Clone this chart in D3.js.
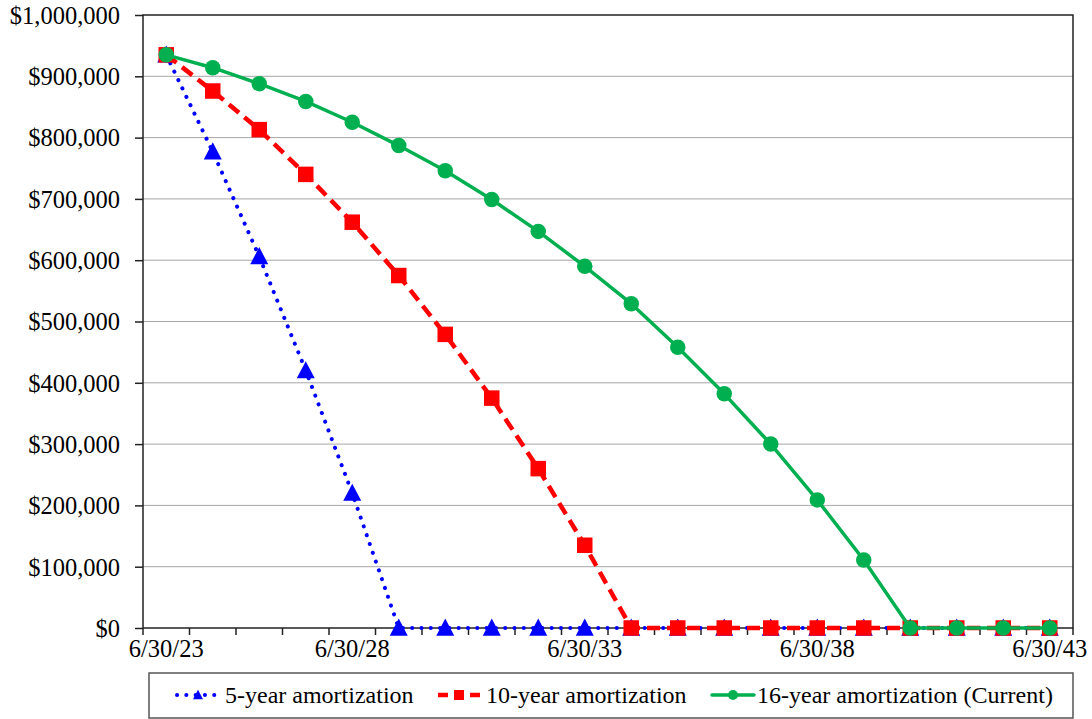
<!DOCTYPE html>
<html>
<head>
<meta charset="utf-8">
<script src="https://cdn.jsdelivr.net/npm/d3@7"></script>
<style>
  body { margin: 0; background: #fff; }
  svg text { fill: #000; }
</style>
</head>
<body>
<svg id="chart" width="1092" height="719"></svg>
<script>
// Valuation dates (category axis)
const dates = ['6/30/23', '6/30/25', '6/30/26', '6/30/27', '6/30/28', '6/30/29', '6/30/30',
    '6/30/31', '6/30/32', '6/30/33', '6/30/34', '6/30/35', '6/30/36', '6/30/37', '6/30/38',
    '6/30/39', '6/30/40', '6/30/41', '6/30/42', '6/30/43'];
const labelDates = ['6/30/23', '6/30/28', '6/30/33', '6/30/38', '6/30/43'];

// Unfunded balance, in dollars
const fiveYear = [935000, 777000, 606000, 420000, 220000, 0, 0, 0, 0, 0,
    0, 0, 0, 0, 0, 0, 0, 0, 0, 0];
const tenYear = [935000, 876000, 813000, 740000, 662000, 575000, 479000, 375000, 260000, 135000,
    0, 0, 0, 0, 0, 0, 0, 0, 0, 0];
const sixteenYear = [935000, 914000, 888000, 859000, 825000, 787000, 746000, 699000, 647000, 590000,
    529000, 458000, 382000, 300000, 209000, 111000, 0, 0, 0, 0];

const yTicks = [0, 100000, 200000, 300000, 400000, 500000, 600000, 700000, 800000, 900000, 1000000];

const series = [
    { name: '5-year amortization', values: fiveYear, color: '#0000FF', marker: 'triangle',
      width: 4, dash: '0.1 9.2', cap: 'round' },
    { name: '10-year amortization', values: tenYear, color: '#FF0000', marker: 'square',
      width: 4.5, dash: '13 7', cap: 'butt' },
    { name: '16-year amortization (Current)', values: sixteenYear, color: '#00B050', marker: 'circle',
      width: 3.5, dash: null, cap: 'round' }
];

const FONT = '"Liberation Serif", "Times New Roman", serif';
const plot = { left: 143, right: 1073, top: 15, bottom: 628 };
const svg = d3.select('#chart');

const x = d3.scaleBand()
    .domain(dates)
    .range([plot.left, plot.right])
    .padding(0);

const y = d3.scaleLinear()
    .domain([0, 1000000])
    .range([plot.bottom, plot.top]);

const cx = d => x(d) + x.bandwidth() / 2;
const money = d3.format('$,.0f');

// Gridlines
svg.append('g')
    .selectAll('line')
    .data(yTicks.filter(t => t > 0 && t < 1000000))
    .enter()
    .append('line')
    .attr('x1', plot.left)
    .attr('x2', plot.right)
    .attr('y1', d => y(d))
    .attr('y2', d => y(d))
    .attr('stroke', '#a6a6a6')
    .attr('stroke-width', 1);

// Y axis
const yAxis = svg.append('g')
    .attr('transform', `translate(${plot.left},0)`)
    .call(d3.axisLeft(y).tickValues(yTicks).tickSize(8).tickPadding(15).tickFormat(money));
yAxis.select('.domain').remove();
yAxis.selectAll('.tick line').attr('stroke', '#222').attr('stroke-width', 1.5);
yAxis.selectAll('.tick text')
    .style('font', `24.5px ${FONT}`)
    .attr('dy', '0.34em');

// X axis: ticks between categories, labels on selected categories
const boundaries = dates.map(d => x(d)).concat([plot.right]);
svg.append('g')
    .selectAll('line')
    .data(boundaries)
    .enter()
    .append('line')
    .attr('x1', d => d)
    .attr('x2', d => d)
    .attr('y1', plot.bottom)
    .attr('y2', plot.bottom + 7)
    .attr('stroke', '#222')
    .attr('stroke-width', 1.5);

svg.append('g')
    .selectAll('text')
    .data(labelDates)
    .enter()
    .append('text')
    .attr('x', d => cx(d))
    .attr('y', plot.bottom + 29)
    .attr('text-anchor', 'middle')
    .style('font', `24.5px ${FONT}`)
    .text(d => d);

// Plot frame
svg.append('rect')
    .attr('x', plot.left)
    .attr('y', plot.top)
    .attr('width', plot.right - plot.left)
    .attr('height', plot.bottom - plot.top)
    .attr('fill', 'none')
    .attr('stroke', '#222')
    .attr('stroke-width', 1.5);

function drawMarker(g, type, px, py, size, color) {
    if (type === 'circle') {
        g.append('circle').attr('cx', px).attr('cy', py).attr('r', size / 2).attr('fill', color);
    } else if (type === 'square') {
        g.append('rect').attr('x', px - size / 2).attr('y', py - size / 2)
            .attr('width', size).attr('height', size).attr('fill', color);
    } else {
        const h = size * 0.95;
        g.append('path')
            .attr('d', `M${px},${py - h * 0.55}L${px + size / 2},${py + h * 0.45}L${px - size / 2},${py + h * 0.45}Z`)
            .attr('fill', color);
    }
}

const line = d3.line()
    .x((d, i) => cx(dates[i]))
    .y(d => y(d));

// Series
series.forEach(s => {
    const g = svg.append('g');
    g.append('path')
        .datum(s.values)
        .attr('d', line)
        .attr('fill', 'none')
        .attr('stroke', s.color)
        .attr('stroke-width', s.width)
        .attr('stroke-dasharray', s.dash)
        .attr('stroke-linecap', s.cap)
        .attr('stroke-linejoin', 'round');
    const size = s.marker === 'circle' ? 15.5 : s.marker === 'square' ? 15.5 : 18;
    s.values.forEach((v, i) => drawMarker(g, s.marker, cx(dates[i]), y(v), size, s.color));
});

// Legend
const legend = svg.append('g');
legend.append('rect')
    .attr('x', 149)
    .attr('y', 673)
    .attr('width', 924)
    .attr('height', 45)
    .attr('fill', '#fff')
    .attr('stroke', '#555')
    .attr('stroke-width', 1.5);

const legendX = [177, 438, 712];
const legendTextX = [225, 486, 757];
series.forEach((s, i) => {
    const lx = legendX[i];
    const ly = 695;
    legend.append('line')
        .attr('x1', lx)
        .attr('x2', lx + 42)
        .attr('y1', ly)
        .attr('y2', ly)
        .attr('stroke', s.color)
        .attr('stroke-width', s.width)
        .attr('stroke-dasharray', s.marker === 'square' ? '10 6' : s.dash)
        .attr('stroke-linecap', s.cap);
    drawMarker(legend, s.marker, lx + 21, ly, 10, s.color);
    legend.append('text')
        .attr('x', legendTextX[i])
        .attr('y', 703)
        .style('font', `24px ${FONT}`)
        .text(s.name);
});
</script>
</body>
</html>
